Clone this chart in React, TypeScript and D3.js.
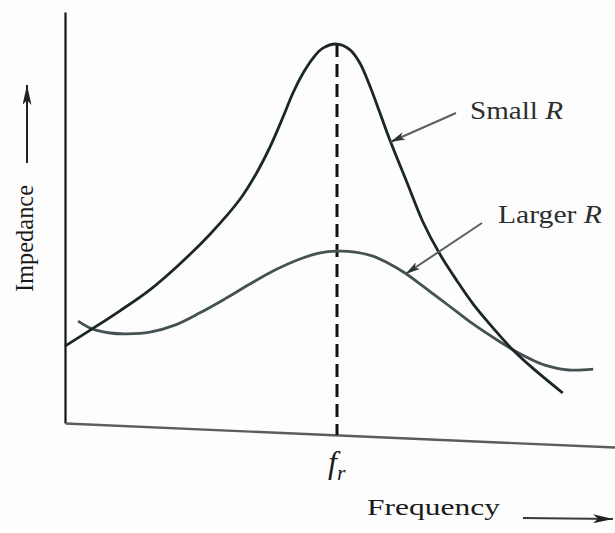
import { useEffect, useRef } from 'react'
import * as d3 from 'd3'

const W = 615
const H = 533

// frequency in arbitrary units, resonance f_r sits at 50
const F_R = 50
const FREQ_END = 101.1
// the scanned x axis runs slightly downhill
const AXIS_TILT = 2.5

const smallRFreq = [0, 5, 10.1, 15.6, 21.1, 26.7, 32.2, 34.9, 37.7, 40.1, 41.9, 43.8, 45.6, 47.4, 50, 52.4, 54.2, 56.1, 57.9, 59.7, 62.9, 65.8, 68.9, 72.1, 75, 78.7, 81.8, 85.5, 91.5]
const smallRImp = [18.7, 22.9, 27.3, 32.4, 38.7, 46, 54.5, 60.1, 67.2, 74.5, 80.3, 85.2, 88.8, 91.2, 92.2, 90.8, 87.6, 81.8, 75.4, 68.9, 58.4, 48.9, 41.1, 34.5, 29, 23.1, 18.5, 13.9, 7.3]

const largerRFreq = [2.4, 5, 8.3, 11.4, 15.6, 20.2, 24.8, 29.4, 34, 38.6, 43.2, 46.9, 50, 53.3, 56.6, 59.7, 62.5, 65.8, 68.9, 72.6, 75, 80, 82.7, 85.5, 88.2, 92.6, 97.1]
const largerRImp = [24.8, 22.9, 21.9, 21.7, 22.1, 23.8, 26.8, 30.2, 33.8, 37.2, 39.9, 41.4, 41.8, 41.6, 40.6, 38.7, 36.5, 33.3, 30.2, 26.5, 24.1, 19.7, 17.5, 15.6, 14.1, 12.9, 13.1]

const FONT = 'Liberation Serif, Times New Roman, Times, serif'

export default function App() {
  const svgRef = useRef<SVGSVGElement>(null)

  useEffect(() => {
    const el = svgRef.current
    if (!el) return
    const svg = d3.select(el)
    svg.selectAll('*').remove()

    const x = d3.scaleLinear().domain([0, 100]).range([65, 609])
    const y = d3.scaleLinear().domain([0, 100]).range([423, 12])

    const defs = svg.append('defs')
    const marker = (id: string, len: number, wid: number, color: string) =>
      defs.append('marker')
        .attr('id', id)
        .attr('markerUnits', 'userSpaceOnUse')
        .attr('markerWidth', len).attr('markerHeight', wid)
        .attr('refX', len).attr('refY', wid / 2)
        .attr('orient', 'auto')
        .append('path')
        .attr('d', `M0,0L${len},${wid / 2}L0,${wid}L${len * 0.25},${wid / 2}Z`)
        .attr('fill', color)
    marker('head-axis', 20, 9, '#222')
    marker('head-note', 15, 8, '#2a3534')

    svg.append('rect').attr('width', W).attr('height', H).attr('fill', '#fdfdfd')

    // y axis
    svg.append('g')
      .attr('transform', `translate(${x(0)},0)`)
      .call(d3.axisLeft(y).tickValues([]).tickSizeOuter(0))
      .call((g) => g.select('.domain').attr('stroke', '#141414').attr('stroke-width', 2.2))

    // x axis, tilted like the scan
    const xAxisScale = d3.scaleLinear().domain([0, FREQ_END]).range([x(0), x(FREQ_END)])
    svg.append('g')
      .attr('transform', `rotate(${AXIS_TILT},${x(0)},${y(0)}) translate(0,${y(0)})`)
      .call(d3.axisBottom(xAxisScale).tickValues([]).tickSizeOuter(0))
      .call((g) => g.select('.domain').attr('stroke', '#5c5c5c').attr('stroke-width', 2.4))

    const tilt = Math.tan((AXIS_TILT * Math.PI) / 180)
    const axisYAt = (px: number) => y(0) + (px - x(0)) * tilt

    // resonance marker
    const peak = d3.max(smallRImp) as number
    svg.append('line')
      .attr('x1', x(F_R)).attr('x2', x(F_R))
      .attr('y1', y(peak)).attr('y2', axisYAt(x(F_R)))
      .attr('stroke', '#111').attr('stroke-width', 3)
      .attr('stroke-dasharray', '13,7')

    const line = d3.line<[number, number]>()
      .x((d) => x(d[0]))
      .y((d) => y(d[1]))
      .curve(d3.curveCatmullRom.alpha(0.5))

    svg.append('path')
      .datum(largerRFreq.map((f, i) => [f, largerRImp[i]] as [number, number]))
      .attr('fill', 'none')
      .attr('stroke', '#445254')
      .attr('stroke-width', 2.8)
      .attr('d', line)

    svg.append('path')
      .datum(smallRFreq.map((f, i) => [f, smallRImp[i]] as [number, number]))
      .attr('fill', 'none')
      .attr('stroke', '#1b2726')
      .attr('stroke-width', 2.8)
      .attr('d', line)

    // annotation arrows
    svg.append('line')
      .attr('x1', 456).attr('y1', 113).attr('x2', x(59.8)).attr('y2', 142)
      .attr('stroke', '#59605f').attr('stroke-width', 2)
      .attr('marker-end', 'url(#head-note)')
    svg.append('line')
      .attr('x1', 482).attr('y1', 223).attr('x2', x(62.6)).attr('y2', 274)
      .attr('stroke', '#59605f').attr('stroke-width', 2)
      .attr('marker-end', 'url(#head-note)')

    const label = (tx: number, ty: number, len: number, size: number, main: string, ital: string) => {
      const t = svg.append('text')
        .attr('x', tx).attr('y', ty)
        .style('font-family', FONT).attr('font-size', size)
        .attr('fill', '#2b2f2f')
        .attr('textLength', len).attr('lengthAdjust', 'spacingAndGlyphs')
      t.append('tspan').text(main)
      t.append('tspan').attr('font-style', 'italic').text(ital)
    }
    label(470, 119, 93, 25, 'Small ', 'R')
    label(498, 223, 104, 25, 'Larger ', 'R')

    // f_r tick label
    const fr = svg.append('text')
      .attr('x', x(F_R) - 9).attr('y', 473)
      .style('font-family', FONT).attr('font-style', 'italic')
      .attr('fill', '#1a1a1a')
    fr.append('tspan').attr('font-size', 32).text('f')
    fr.append('tspan').attr('font-size', 22).attr('dy', 7).text('r')

    // axis titles
    svg.append('text')
      .attr('x', 367).attr('y', 515)
      .style('font-family', FONT).attr('font-size', 24)
      .attr('fill', '#1a1a1a')
      .attr('textLength', 133).attr('lengthAdjust', 'spacingAndGlyphs')
      .text('Frequency')
    svg.append('line')
      .attr('x1', 523).attr('y1', 518).attr('x2', 613).attr('y2', 519)
      .attr('stroke', '#3a3a3a').attr('stroke-width', 2)
      .attr('marker-end', 'url(#head-axis)')

    svg.append('text')
      .attr('transform', 'translate(33,292) rotate(-90)')
      .style('font-family', FONT).attr('font-size', 26)
      .attr('fill', '#1a1a1a')
      .attr('textLength', 107).attr('lengthAdjust', 'spacingAndGlyphs')
      .text('Impedance')
    svg.append('line')
      .attr('x1', 27).attr('y1', 163).attr('x2', 27).attr('y2', 85)
      .attr('stroke', '#222').attr('stroke-width', 2)
      .attr('marker-end', 'url(#head-axis)')
  }, [])

  return (
    <svg
      ref={svgRef}
      width={W}
      height={H}
      style={{ position: 'fixed', left: 0, top: 0, display: 'block' }}
    />
  )
}
